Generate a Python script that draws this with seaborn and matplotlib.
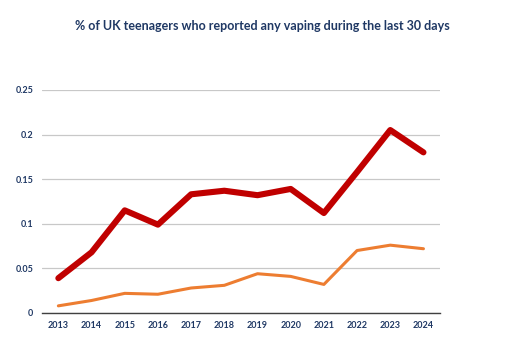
import seaborn as sns
import pandas as pd
import matplotlib.pyplot as plt

years = [2013, 2014, 2015, 2016, 2017, 2018, 2019, 2020, 2021, 2022, 2023, 2024]
series_a = [0.039, 0.068, 0.115, 0.099, 0.133, 0.137, 0.132, 0.139, 0.112, 0.158, 0.205, 0.180]
series_b = [0.008, 0.014, 0.022, 0.021, 0.028, 0.031, 0.044, 0.041, 0.032, 0.070, 0.076, 0.072]
y_ticks = [0, 0.05, 0.1, 0.15, 0.2, 0.25]
y_labels = ["0", "0.05", "0.1", "0.15", "0.2", "0.25"]

navy = "#1F3864"

sns.set_style("white")
plt.rcParams["font.family"] = ["Lato", "DejaVu Sans"]

df = pd.DataFrame({
    "pos": list(range(len(years))) * 2,
    "value": series_a + series_b,
    "series": ["a"] * len(years) + ["b"] * len(years),
})

fig = plt.figure(figsize=(5.22, 3.61), dpi=100)
ax = fig.add_axes([0.08, 0.133, 0.763, 0.618])

sns.lineplot(data=df[df.series == "a"], x="pos", y="value", ax=ax,
             color="#C00000", linewidth=4.4, legend=False)
sns.lineplot(data=df[df.series == "b"], x="pos", y="value", ax=ax,
             color="#ED7D31", linewidth=2.2, legend=False)

ax.set_xlim(-0.5, len(years) - 0.5)
ax.set_ylim(0, 0.25)
ax.set_xticks(range(len(years)))
ax.set_xticklabels([str(y) for y in years])
ax.set_yticks(y_ticks)
ax.set_yticklabels(y_labels)
ax.set_xlabel("")
ax.set_ylabel("")
ax.tick_params(axis="both", length=0, labelsize=6.5, labelcolor=navy, pad=6)
for lbl in ax.get_xticklabels() + ax.get_yticklabels():
    lbl.set_fontweight("bold")

ax.grid(axis="y", color="#C8C8C8", linewidth=0.9)
ax.set_axisbelow(True)
for side in ["top", "right", "left"]:
    ax.spines[side].set_visible(False)
ax.spines["bottom"].set_color("#404040")
ax.spines["bottom"].set_linewidth(1.0)

fig.text(0.502, 0.928, "% of UK teenagers who reported any vaping during the last 30 days",
         ha="center", va="center", fontsize=9.0, color=navy, fontweight="bold")

fig.savefig("out.png", dpi=100)
